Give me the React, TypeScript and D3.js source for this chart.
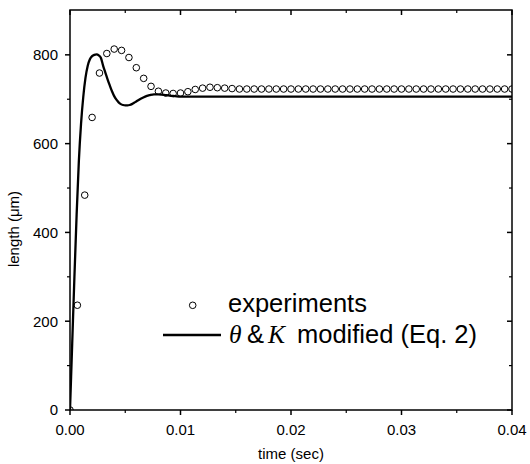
import React from "react";
import * as d3 from "d3";

const expTime = [
  0, 0.000667, 0.001333, 0.002, 0.002667, 0.003333, 0.004, 0.004667, 0.005333, 0.006,
  0.006667, 0.007333, 0.008, 0.008667, 0.009333, 0.01, 0.010667, 0.011333, 0.012, 0.012667,
  0.013333, 0.014, 0.014667, 0.015333, 0.016, 0.016667, 0.017333, 0.018, 0.018667, 0.019333,
  0.02, 0.020667, 0.021333, 0.022, 0.022667, 0.023333, 0.024, 0.024667, 0.025333, 0.026,
  0.026667, 0.027333, 0.028, 0.028667, 0.029333, 0.03, 0.030667, 0.031333, 0.032, 0.032667,
  0.033333, 0.034, 0.034667, 0.035333, 0.036, 0.036667, 0.037333, 0.038, 0.038667, 0.039333,
  0.04,
];
const expLength = [
  0, 236, 484, 659, 759, 803, 813, 810, 794, 771,
  747, 729, 718, 714, 713, 714, 717, 722, 725, 727,
  726, 725, 724, 723, 723, 723, 723, 723, 723, 723,
  723, 723, 723, 723, 723, 723, 723, 723, 723, 723,
  723, 723, 723, 723, 723, 723, 723, 723, 723, 723,
  723, 723, 723, 723, 723, 723, 723, 723, 723, 723,
  723,
];

const modTime = [
  0, 0.0002, 0.0004, 0.0006, 0.0008, 0.001, 0.0012, 0.0014, 0.0016, 0.0018,
  0.002, 0.0022, 0.0024, 0.0026, 0.0028, 0.003, 0.0032, 0.0034, 0.0036, 0.0038,
  0.004, 0.0042, 0.0044, 0.0046, 0.0048, 0.005, 0.0052, 0.0054, 0.0056, 0.0058,
  0.006, 0.0064, 0.0068, 0.0072, 0.0076, 0.008, 0.0085, 0.009, 0.0095, 0.01,
  0.012, 0.02, 0.03, 0.04,
];
const modLength = [
  0, 150, 300, 440, 560, 645, 705, 748, 775, 790,
  797, 800, 801, 799, 793, 775, 760, 745, 731, 718,
  707, 699, 693, 689, 687, 686, 686, 687, 689, 692,
  695, 701, 706, 709, 711, 711, 710, 708, 707, 706,
  706, 706, 706, 706,
];

const xMajorTicks = [0, 0.01, 0.02, 0.03, 0.04];
const xMinorTicks = [0.005, 0.015, 0.025, 0.035];
const yMajorTicks = [0, 200, 400, 600, 800];
const yMinorTicks = [100, 300, 500, 700];

const W = 530, H = 464;
const L = 70, R = 512, T = 10, B = 410;
const SANS = "'Liberation Sans', Arial, sans-serif";
const SERIF = "'Liberation Serif', 'Times New Roman', serif";

export default function App() {
  const x = d3.scaleLinear().domain([0, 0.04]).range([L, R]);
  const y = d3.scaleLinear().domain([0, 901]).range([B, T]);
  const line = d3
    .line<number>()
    .x((_, i) => x(modTime[i]))
    .y((d) => y(d))
    .curve(d3.curveMonotoneX);
  const fmtX = d3.format(".2f");

  return (
    <svg
      width={W}
      height={H}
      style={{ position: "absolute", left: 0, top: 0, background: "#fff" }}
    >
      <defs>
        <clipPath id="plot">
          <rect x={L} y={T} width={R - L} height={B - T} />
        </clipPath>
      </defs>
      <rect x={0} y={0} width={W} height={H} fill="#fff" />

      <g clipPath="url(#plot)">
        <path d={line(modLength) || ""} fill="none" stroke="#000" strokeWidth={2.3} />
        {expLength.map((v, i) => (
          <circle
            key={i}
            cx={x(expTime[i])}
            cy={y(v)}
            r={3.3}
            fill="none"
            stroke="#000"
            strokeWidth={1}
          />
        ))}
      </g>

      {/* frame */}
      <rect x={L} y={T} width={R - L} height={B - T} fill="none" stroke="#000" strokeWidth={1.5} />

      {/* x ticks */}
      {xMajorTicks.map((t) => (
        <g key={"xm" + t}>
          <line x1={x(t)} x2={x(t)} y1={B} y2={B + 5} stroke="#000" strokeWidth={1.5} />
          <line x1={x(t)} x2={x(t)} y1={T} y2={T + 5} stroke="#000" strokeWidth={1.5} />
          <text
            x={x(t)}
            y={434.5}
            textAnchor="middle"
            fontFamily={SANS}
            fontSize={15}
            fill="#000"
          >
            {fmtX(t)}
          </text>
        </g>
      ))}
      {xMinorTicks.map((t) => (
        <g key={"xn" + t}>
          <line x1={x(t)} x2={x(t)} y1={B} y2={B + 3} stroke="#000" strokeWidth={1.2} />
          <line x1={x(t)} x2={x(t)} y1={T} y2={T + 3} stroke="#000" strokeWidth={1.2} />
        </g>
      ))}

      {/* y ticks */}
      {yMajorTicks.map((t) => (
        <g key={"ym" + t}>
          <line x1={L - 5} x2={L} y1={y(t)} y2={y(t)} stroke="#000" strokeWidth={1.5} />
          <line x1={R - 5} x2={R} y1={y(t)} y2={y(t)} stroke="#000" strokeWidth={1.5} />
          <text
            x={L - 12}
            y={y(t)}
            dy="0.36em"
            textAnchor="end"
            fontFamily={SANS}
            fontSize={15}
            fill="#000"
          >
            {t}
          </text>
        </g>
      ))}
      {yMinorTicks.map((t) => (
        <g key={"yn" + t}>
          <line x1={L - 3} x2={L} y1={y(t)} y2={y(t)} stroke="#000" strokeWidth={1.2} />
          <line x1={R - 3} x2={R} y1={y(t)} y2={y(t)} stroke="#000" strokeWidth={1.2} />
        </g>
      ))}

      {/* axis titles */}
      <text
        x={(L + R) / 2}
        y={459}
        textAnchor="middle"
        fontFamily={SANS}
        fontSize={15}
        fill="#000"
      >
        time (sec)
      </text>
      <text
        transform="translate(18.5,229) rotate(-90)"
        textAnchor="middle"
        fontFamily={SANS}
        fontSize={15}
        fill="#000"
      >
        length (μm)
      </text>

      {/* legend */}
      <circle cx={192.7} cy={305.3} r={3.3} fill="none" stroke="#000" strokeWidth={1} />
      <text x={228} y={312} fontFamily={SANS} fontSize={25.5} fill="#000">
        experiments
      </text>
      <line x1={163} x2={221} y1={335} y2={335} stroke="#000" strokeWidth={2.3} />
      <text y={343} fontSize={25.5} fill="#000">
        <tspan x={229} fontFamily={SERIF} fontStyle="italic">θ</tspan>
        <tspan x={247} fontFamily={SANS}>&amp;</tspan>
        <tspan x={268} fontFamily={SERIF} fontStyle="italic">K</tspan>
        <tspan x={297} fontFamily={SANS}>modified (Eq. 2)</tspan>
      </text>
    </svg>
  );
}
